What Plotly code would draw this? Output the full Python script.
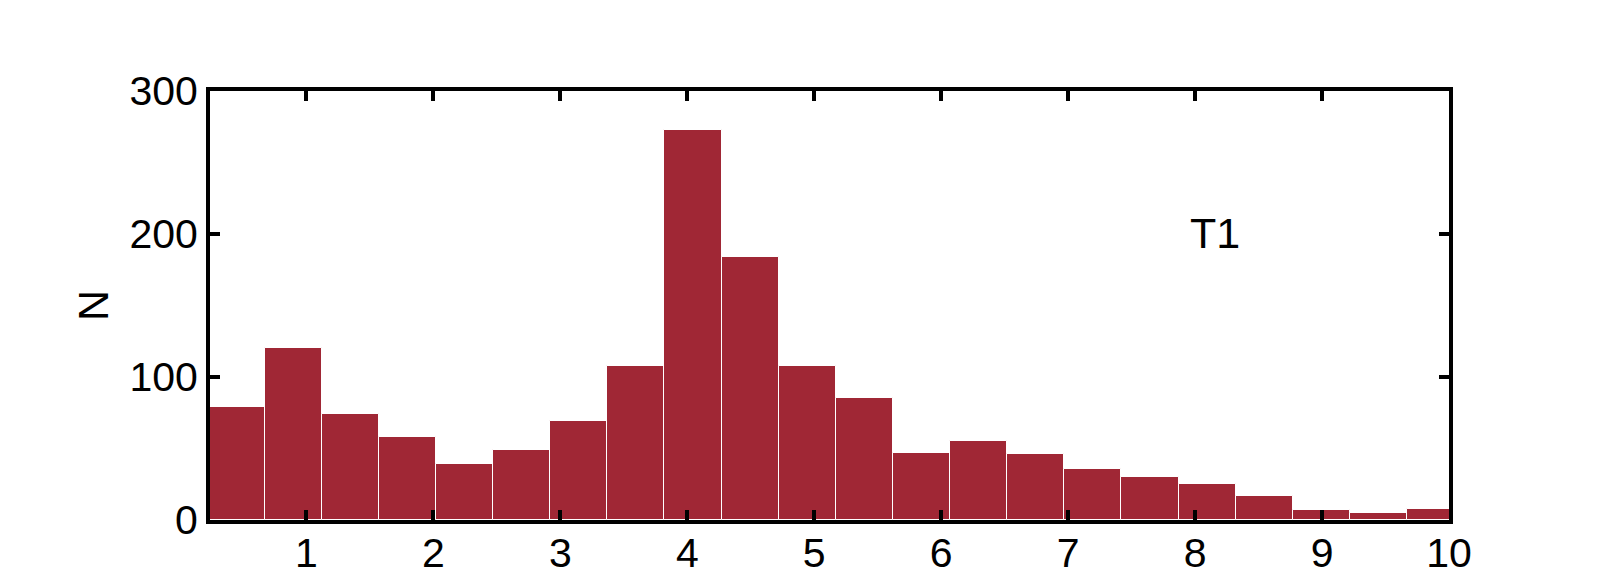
import plotly.graph_objects as go

# histogram bins (left edge, width) and counts
bin_start = 0.22
bin_width = 0.45
counts = [79, 120, 74, 58, 39, 49, 69, 108, 273, 184, 108, 85,
          47, 55, 46, 36, 30, 25, 17, 7, 5, 8]
bin_centers = [bin_start + bin_width * (i + 0.5) for i in range(len(counts))]

x_ticks = [1, 2, 3, 4, 5, 6, 7, 8, 9, 10]
y_ticks = [0, 100, 200, 300]

bar_colour = "#A02735"
font_family = "Liberation Sans, Arial, sans-serif"

fig = go.Figure()

fig.add_trace(go.Bar(
	x=bin_centers,
	y=counts,
	width=bin_width,
	marker=dict(color=bar_colour, line=dict(color="white", width=1)),
	showlegend=False))

fig.add_annotation(x=8.16, y=201, text="T1", showarrow=False,
	font=dict(size=43, color="black", family=font_family))

axis_style = dict(
	showline=True, linecolor="black", linewidth=4, mirror="ticks",
	ticks="inside", ticklen=10, tickwidth=4, tickcolor="black",
	showgrid=False, zeroline=False, automargin=False,
	tickfont=dict(size=41, color="black", family=font_family))

# the page body adds 8px around the figure, so the figure is 8px smaller
fig.update_layout(
	width=1593, height=570,
	margin=dict(l=202, r=152, t=83, b=58),
	plot_bgcolor="white", paper_bgcolor="white",
	bargap=0,
	xaxis=dict(range=[0.24, 10], tickvals=x_ticks, ticklabelstandoff=-6, **axis_style),
	yaxis=dict(range=[0, 300], tickvals=y_ticks,
		title=dict(text="N", font=dict(size=43, color="black", family=font_family), standoff=8),
		**axis_style))

fig.write_html("out.html")
